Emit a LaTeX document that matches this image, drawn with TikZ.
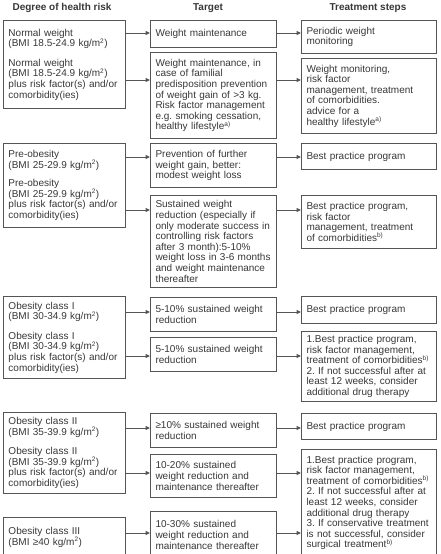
\documentclass[tikz,border=0pt]{standalone}
\usepackage{fontspec}
\setmainfont{Liberation Sans}
\usetikzlibrary{arrows.meta}
\definecolor{boxgray}{RGB}{85,85,85}
\definecolor{txtgray}{RGB}{55,55,55}
\newcommand\fnote[1]{\textsuperscript{\fontsize{6.5}{7}\selectfont #1}}
\tikzset{
  box/.style      = {draw=boxgray,line width=1pt,text=txtgray,align=left,
                     anchor=north west,inner xsep=5pt,inner ysep=0pt,
                     font=\fontsize{10}{10.6}\selectfont\frenchspacing},
  riskbox/.style  = {box,text width=112pt},
  targetbox/.style= {box,text width=116pt},
  stepbox/.style  = {box,text width=125pt},
  head/.style     = {text=txtgray,font=\fontsize{10}{12}\selectfont\bfseries},
  arrow/.style    = {-{Triangle[length=4.5pt,width=4pt]},draw=boxgray,line width=1pt},
}

\begin{document}
\begin{tikzpicture}[x=1pt,y=-1pt]
  \useasboundingbox (0,0) rectangle (440,554);

  % column heads
  \node[head] (hrisk)  at (62,8)  {Degree of health risk};
  \node[head] (htarget) at (208,8) {Target};
  \node[head] (hsteps) at (368,8) {Treatment steps};

  % degree of health risk
  \node[riskbox,minimum height=88pt] (normal) at (3,20)
    {Normal weight\\(BMI 18.5-24.9 kg/m\fnote{2})\\[9pt]
     Normal weight\\(BMI 18.5-24.9 kg/m\fnote{2})\\
     plus risk factor(s) and/or\\comorbidity(ies)};
  \node[riskbox,minimum height=84pt] (pre) at (3,143)
    {Pre-obesity\\(BMI 25-29.9 kg/m\fnote{2})\\[8pt]
     Pre-obesity\\(BMI 25-29.9 kg/m\fnote{2})\\
     plus risk factor(s) and/or\\comorbidity(ies)};
  \node[riskbox,minimum height=82pt] (obI) at (3,296)
    {Obesity class I\\(BMI 30-34.9 kg/m\fnote{2})\\[9pt]
     Obesity class I\\(BMI 30-34.9 kg/m\fnote{2})\\
     plus risk factor(s) and/or\\comorbidity(ies)};
  \node[riskbox,minimum height=81pt] (obII) at (3,412)
    {Obesity class II\\(BMI 35-39.9 kg/m\fnote{2})\\[9pt]
     Obesity class II\\(BMI 35-39.9 kg/m\fnote{2})\\
     plus risk factor(s) and/or\\comorbidity(ies)};
  \node[riskbox,minimum height=40pt] (obIII) at (3,517)
    {Obesity class III\\(BMI ≥40 kg/m\fnote{2})};

  % target
  \node[targetbox,minimum height=27pt] (t1) at (150,20) {Weight maintenance};
  \node[targetbox,minimum height=86pt] (t2) at (150,52)
    {Weight maintenance, in\\case of familial\\predisposition prevention\\
     of weight gain of >3 kg.\\Risk factor management\\e.g. smoking cessation,\\
     healthy lifestyle\fnote{a)}};
  \node[targetbox,minimum height=44pt] (t3) at (150,143)
    {Prevention of further\\weight gain, better:\\modest weight loss};
  \node[targetbox,minimum height=92pt] (t4) at (150,195)
    {Sustained weight\\reduction (especially if\\only moderate success in\\
     controlling risk factors\\after 3 month):5-10\%\\weight loss in 3-6 months\\
     and weight maintenance\\thereafter};
  \node[targetbox,minimum height=34pt] (t5) at (150,297)
    {5-10\% sustained weight\\reduction};
  \node[targetbox,minimum height=34pt] (t6) at (150,337)
    {5-10\% sustained weight\\reduction};
  \node[targetbox,minimum height=34pt] (t7) at (150,413)
    {≥10\% sustained weight\\reduction};
  \node[targetbox,minimum height=43pt] (t8) at (150,454)
    {10-20\% sustained\\weight reduction and\\maintenance thereafter};
  \node[targetbox,minimum height=47pt] (t9) at (150,511)
    {10-30\% sustained\\weight reduction and\\maintenance thereafter};

  % treatment steps
  \node[stepbox,minimum height=33pt] (s1) at (301,20)
    {Periodic weight\\monitoring};
  \node[stepbox,minimum height=75pt] (s2) at (301,58)
    {Weight monitoring,\\risk factor\\management, treatment\\of comorbidities.\\
     advice for a\\healthy lifestyle\fnote{a)}};
  \node[stepbox,minimum height=26pt] (s3) at (301,143) {Best practice program};
  \node[stepbox,minimum height=53pt] (s4) at (301,195)
    {Best practice program,\\risk factor\\management, treatment\\
     of comorbidities\fnote{b)}};
  \node[stepbox,minimum height=27pt] (s5) at (301,296) {Best practice program};
  \node[stepbox,minimum height=70pt] (s6) at (301,331)
    {1.Best practice program,\\risk factor management,\\
     treatment of comorbidities\fnote{b)}\\2. If not successful after at\\
     least 12 weeks, consider\\additional drug therapy};
  \node[stepbox,minimum height=26pt] (s7) at (301,413) {Best practice program};
  \node[stepbox,minimum height=107pt] (s8) at (301,449)
    {1.Best practice program,\\risk factor management,\\
     treatment of comorbidities\fnote{b)}\\2. If not successful after at\\
     least 12 weeks, consider\\additional drug therapy\\
     3. If conservative treatment\\is not successful, consider\\
     surgical treatment\fnote{b)}};

  % arrow heights
  \foreach \y [count=\i] in {33,80,157,210,312,356,428,473,533}
    \coordinate (row\i) at (0,\y);

  \foreach \src/\mid/\dst [count=\i] in {normal/t1/s1,normal/t2/s2,pre/t3/s3,
      pre/t4/s4,obI/t5/s5,obI/t6/s6,obII/t7/s7,obII/t8/s8,obIII/t9/s8}{
    \draw[arrow] (\src.east |- row\i) -- (\mid.west |- row\i);
    \draw[arrow] (\mid.east |- row\i) -- (\dst.west |- row\i);
  }
\end{tikzpicture}
\end{document}
